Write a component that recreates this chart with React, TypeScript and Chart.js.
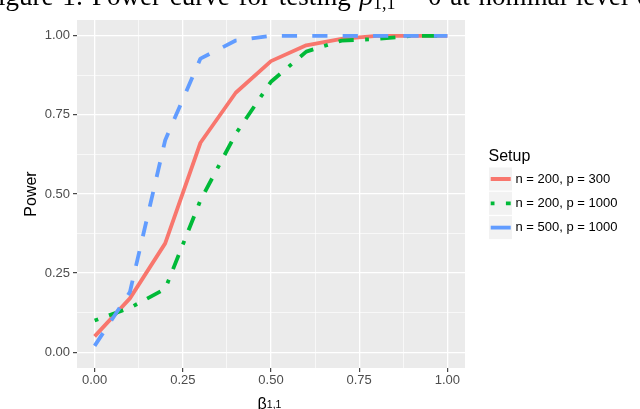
import React, { useEffect, useRef } from 'react';
import { Chart, registerables } from 'chart.js';

Chart.register(...registerables);

// ---------- data ----------
const betaValues = [0, 0.1, 0.2, 0.3, 0.4, 0.5, 0.6, 0.7, 0.8, 0.9, 1.0];
const seriesLabels = ['n = 200, p = 300', 'n = 200, p = 1000', 'n = 500, p = 1000'];
const powerN200P300 = [0.05, 0.17, 0.344, 0.662, 0.82, 0.92, 0.97, 0.99, 1.0, 1.0, 1.0];
const powerN200P1000 = [0.10, 0.14, 0.20, 0.48, 0.69, 0.855, 0.95, 0.985, 0.99, 1.0, 1.0];
const powerN500P1000 = [0.02, 0.19, 0.67, 0.928, 0.985, 1.0, 1.0, 1.0, 1.0, 1.0, 1.0];
const xTickValues = [0, 0.25, 0.5, 0.75, 1.0];
const yTickValues = [0, 0.25, 0.5, 0.75, 1.0];
const legendTitle = 'Setup';
const yAxisTitle = 'Power';
const xAxisTitleMain = 'β';
const xAxisTitleSub = '1,1';
const captionBefore = 'Figure 1: Power curve for testing ';
const captionSymbol = 'β';
const captionSub = '1,1';
const captionAfter = ' = 0 at nominal level of 0.05';

const FONT = "'Liberation Sans', Arial, Helvetica, sans-serif";

function withMinors(majors: number[]) {
  const out: { value: number; minor: boolean }[] = [];
  majors.forEach((v, i) => {
    out.push({ value: v, minor: false });
    if (i < majors.length - 1) out.push({ value: (v + majors[i + 1]) / 2, minor: true });
  });
  return out;
}

function isMajor(v: number, majors: number[]) {
  return majors.some((m) => Math.abs(m - v) < 1e-9);
}

const panelPlugin = {
  id: 'panelBg',
  beforeDraw(chart: any) {
    const { ctx, chartArea } = chart;
    ctx.save();
    ctx.fillStyle = '#EBEBEB';
    ctx.fillRect(chartArea.left, chartArea.top, chartArea.right - chartArea.left, chartArea.bottom - chartArea.top);
    ctx.restore();
  },
};

const extrasPlugin = {
  id: 'extras',
  afterDraw(chart: any) {
    const { ctx, chartArea } = chart;
    ctx.save();
    // x-axis title with subscript
    ctx.fillStyle = '#000';
    ctx.textBaseline = 'alphabetic';
    ctx.font = `16px ${FONT}`;
    const wMain = ctx.measureText(xAxisTitleMain).width;
    ctx.font = `10.5px ${FONT}`;
    const wSub = ctx.measureText(xAxisTitleSub).width;
    const cx = (chartArea.left + chartArea.right) / 2 - 1.5;
    const x0 = cx - (wMain + wSub) / 2;
    ctx.font = `16px ${FONT}`;
    ctx.textAlign = 'left';
    ctx.fillText(xAxisTitleMain, x0, 408.5);
    ctx.font = `10.5px ${FONT}`;
    ctx.fillText(xAxisTitleSub, x0 + wMain, 407.5);

    // legend
    const lx = 488.5;
    ctx.font = `16px ${FONT}`;
    ctx.fillText(legendTitle, lx, 160.5);
    const keySize = 23;
    const keyStep = 24.3;
    const keyTop = 167.5;
    chart.data.datasets.forEach((ds: any, i: number) => {
      const top = keyTop + i * keyStep;
      ctx.fillStyle = '#F2F2F2';
      ctx.fillRect(489, top, keySize, keySize);
      const cy = top + keySize / 2;
      ctx.save();
      ctx.beginPath();
      ctx.rect(489, top, keySize, keySize);
      ctx.clip();
      ctx.strokeStyle = ds.borderColor;
      ctx.lineWidth = ds.borderWidth;
      ctx.lineCap = 'butt';
      ctx.setLineDash(ds.keyDash || []);
      ctx.beginPath();
      ctx.moveTo(490.7, cy);
      ctx.lineTo(510.7, cy);
      ctx.stroke();
      ctx.restore();
      ctx.fillStyle = '#000';
      ctx.font = `13px ${FONT}`;
      ctx.textBaseline = 'middle';
      ctx.fillText(ds.label, 515.5, cy);
      ctx.textBaseline = 'alphabetic';
    });
    ctx.restore();
  },
};

function makeScale(majors: number[], axis: 'x' | 'y') {
  return {
    type: 'linear' as const,
    min: -0.05,
    max: 1.05,
    border: { display: false },
    grid: {
      color: '#FFFFFF',
      lineWidth: (c: any) => (c.tick && isMajor(c.tick.value, majors) ? 1.3 : 0.65),
      drawTicks: true,
      tickLength: 4,
      tickColor: (c: any) => (c.tick && isMajor(c.tick.value, majors) ? '#333333' : 'rgba(0,0,0,0)'),
      tickWidth: 1.1,
    },
    ticks: {
      autoSkip: false,
      maxRotation: 0,
      minRotation: 0,
      color: '#4D4D4D',
      font: { family: FONT, size: 13 },
      padding: axis === 'x' ? 1 : 3,
      callback: (v: any) => (isMajor(Number(v), majors) ? Number(v).toFixed(2) : ''),
    },
    afterBuildTicks: (scale: any) => {
      scale.ticks = withMinors(majors).map((t) => ({ value: t.value }));
    },
    afterFit: (scale: any) => {
      if (axis === 'x') scale.height = 41;
      else scale.width = 77;
    },
  };
}

export default function App() {
  const canvasRef = useRef<HTMLCanvasElement | null>(null);

  useEffect(() => {
    document.body.style.margin = '0';
    const canvas = canvasRef.current;
    if (!canvas) return;
    const toPoints = (arr: number[]) => betaValues.map((x, i) => ({ x, y: arr[i] }));
    const chart = new Chart(canvas, {
      type: 'line',
      data: {
        datasets: [
          {
            label: seriesLabels[0],
            data: toPoints(powerN200P300),
            borderColor: '#F8766D',
            borderWidth: 3.8,
            borderCapStyle: 'butt',
            borderJoinStyle: 'round',
            pointRadius: 0,
            tension: 0,
            order: 3,
            keyDash: [],
          } as any,
          {
            label: seriesLabels[1],
            data: toPoints(powerN200P1000),
            borderColor: '#00BA38',
            borderWidth: 3.8,
            borderDash: [3.8, 11.4, 15.2, 11.4],
            borderCapStyle: 'butt',
            borderJoinStyle: 'round',
            pointRadius: 0,
            tension: 0,
            order: 2,
            keyDash: [3.8, 11.4, 15.2, 11.4],
          } as any,
          {
            label: seriesLabels[2],
            data: toPoints(powerN500P1000),
            borderColor: '#619CFF',
            borderWidth: 3.8,
            borderDash: [15.2, 15.2],
            borderCapStyle: 'butt',
            borderJoinStyle: 'round',
            pointRadius: 0,
            tension: 0,
            order: 1,
            keyDash: [],
          } as any,
        ],
      },
      options: {
        responsive: false,
        animation: false,
        devicePixelRatio: 1,
        layout: { padding: { top: 20, right: 175, left: 0, bottom: 0 } },
        plugins: {
          legend: { display: false },
          tooltip: { enabled: false },
          title: { display: false },
        },
        scales: {
          x: makeScale(xTickValues, 'x') as any,
          y: {
            ...(makeScale(yTickValues, 'y') as any),
            title: {
              display: true,
              text: yAxisTitle,
              color: '#000000',
              font: { family: FONT, size: 16 },
              padding: { top: 22, bottom: 0 },
            },
          },
        },
      },
      plugins: [panelPlugin, extrasPlugin],
    });
    return () => chart.destroy();
  }, []);

  return (
    <div style={{ position: 'fixed', left: 0, top: 0, width: 640, height: 409, overflow: 'hidden', background: '#fff' }}>
      <canvas ref={canvasRef} width={640} height={409} style={{ position: 'absolute', left: 0, top: 0, width: 640, height: 409 }} />
      <div
        style={{
          position: 'absolute',
          left: -17,
          top: -17,
          whiteSpace: 'nowrap',
          fontFamily: "'Liberation Serif', 'Times New Roman', serif",
          fontSize: 27,
          lineHeight: '27px',
          wordSpacing: 2,
          color: '#000',
        }}
      >
        {captionBefore}
        <i>{captionSymbol}</i>
        <span style={{ position: 'relative', top: 4, fontSize: 18 }}>{captionSub}</span>
        {captionAfter}
      </div>
    </div>
  );
}
